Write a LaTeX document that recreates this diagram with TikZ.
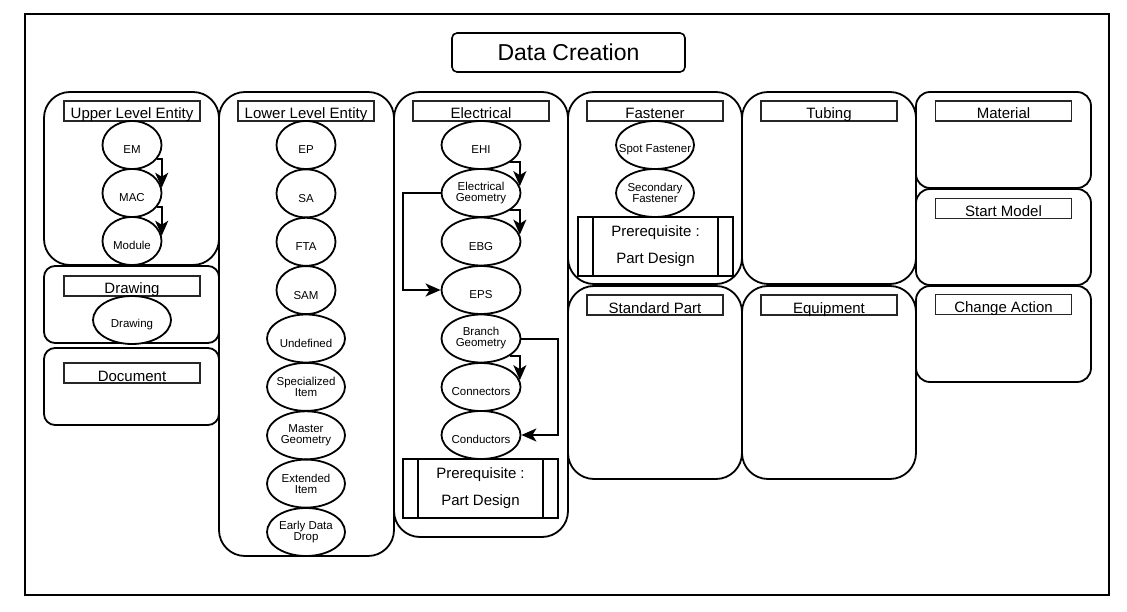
\documentclass[tikz,border=0pt]{standalone}
\usepackage{fontspec}
\setmainfont{Liberation Sans}
\usepackage{tikz}
\usetikzlibrary{shapes.geometric}
\usetikzlibrary{arrows.meta}

\tikzset{
    panel/.style={draw, line width=1.8pt, rounded corners=#1},
    tabhead/.style={draw=black!85, line width=1.6pt, fill=white, minimum width=136pt,
        minimum height=20pt, inner sep=0pt, text height=16pt, text depth=0pt,
        font=\fontsize{15}{18}\selectfont},
    entity/.style={ellipse, draw, line width=1.8pt, fill=white, minimum width=#1,
        minimum height=48pt, inner xsep=-14pt, inner ysep=-10pt, align=center,
        font=\fontsize{11.5}{11}\selectfont, execute at begin node={\rule{0pt}{18pt}}},
    entity/.default=78pt,
    prereq/.style={draw, line width=1.8pt, fill=white, minimum width=155pt,
        minimum height=59pt, inner sep=0pt, align=center,
        font=\fontsize{15}{27}\selectfont, execute at begin node={\rule{0pt}{19pt}}},
    flow/.style={line width=2pt, -{Stealth[length=15pt, width=13pt, inset=4pt]}},
}

\begin{document}
\begin{tikzpicture}[x=1pt, y=-1pt]
        \useasboundingbox (0,0) rectangle (1127,612);
        \draw[line width=1.6pt, fill=white] (25,14) rectangle (1109,595);
        \draw (568.5,52.5) node[draw, line width=1.6pt, rounded corners=5pt, minimum width=233pt,
            minimum height=39pt, font=\fontsize{23}{26}\selectfont] (title) {Data Creation};

        % Panels.
        \draw[panel=26pt] (44,92) rectangle (219,265);
        \draw[panel=11pt] (44,266) rectangle (219,343);
        \draw[panel=11pt] (44,348) rectangle (219,425);
        \draw[panel=26pt] (219,92) rectangle (394,556);
        \draw[panel=26pt] (394,92) rectangle (568,537);
        \draw[panel=26pt] (568,92) rectangle (742,284);
        \draw[panel=26pt] (568,286) rectangle (742,479);
        \draw[panel=26pt] (742,92) rectangle (916,284);
        \draw[panel=26pt] (742,286) rectangle (916,479);
        \draw[panel=14pt] (916,92) rectangle (1091,188);
        \draw[panel=14pt] (916,189) rectangle (1091,285);
        \draw[panel=14pt] (916,286) rectangle (1091,382);

        % Panel titles.
        \draw (132,111) node[tabhead] (ulehead) {Upper Level Entity};
        \draw (132,286) node[tabhead] (dwghead) {Drawing};
        \draw (132,373) node[tabhead] (dochead) {Document};
        \draw (306,111) node[tabhead] (llehead) {Lower Level Entity};
        \draw (481,111) node[tabhead] (elechead) {Electrical};
        \draw (655,111) node[tabhead] (fasthead) {Fastener};
        \draw (655,305) node[tabhead] (stdhead) {Standard Part};
        \draw (829,111) node[tabhead] (tubehead) {Tubing};
        \draw (829,305) node[tabhead] (equiphead) {Equipment};
        \draw (1003.5,111) node[tabhead] (mathead) {Material};
        \draw (1003.5,208.5) node[tabhead] (starthead) {Start Model};
        \draw (1003.5,304.5) node[tabhead] (chghead) {Change Action};

        % Upper level entity.
        \draw (132,145) node[entity=59pt] (em) {EM};
        \draw (132,193) node[entity=59pt] (mac) {MAC};
        \draw (132,241) node[entity=59pt] (module) {Module};
        \draw[flow] (em.-30) -| (mac.10);
        \draw[flow] (mac.-30) -| (module.10);

        % Drawing.
        \draw (132,320) node[entity] (dwg) {Drawing};

        % Lower level entity.
        \draw (306,145) node[entity=59pt] (ep) {EP};
        \draw (306,193.4) node[entity=59pt] (sa) {SA};
        \draw (306,241.8) node[entity=59pt] (fta) {FTA};
        \draw (306,290.1) node[entity=59pt] (sam) {SAM};
        \draw (306,338.5) node[entity] (undef) {Undefined};
        \draw (306,386.9) node[entity] (spitem) {Specialized\\Item};
        \draw (306,435.3) node[entity] (mgeo) {Master\\Geometry};
        \draw (306,483.6) node[entity] (extitem) {Extended\\Item};
        \draw (306,532) node[entity] (edd) {Early Data\\Drop};

        % Electrical.
        \draw (481,145) node[entity=79pt] (ehi) {EHI};
        \draw (481,193) node[entity=79pt] (egeo) {Electrical\\Geometry};
        \draw (481,241.5) node[entity=79pt] (ebg) {EBG};
        \draw (481,290) node[entity=79pt] (eps) {EPS};
        \draw (481,338.5) node[entity=79pt] (bgeo) {Branch\\Geometry};
        \draw (481,387) node[entity=79pt] (conn) {Connectors};
        \draw (481,435) node[entity=79pt] (cond) {Conductors};
        \draw (480.5,488.5) node[prereq] (elecpre) {Prerequisite :\\Part Design};
        \draw[line width=1.8pt] ([xshift=16pt]elecpre.north west) -- ([xshift=16pt]elecpre.south west)
            ([xshift=-16pt]elecpre.north east) -- ([xshift=-16pt]elecpre.south east);
        \draw[flow] (ehi.-30) -| (egeo.10);
        \draw[flow] (egeo.-30) -| (ebg.10);
        \draw[flow] (egeo.west) -- ++(-38,0) |- (eps.west);
        \draw[flow] (bgeo.-30) -| (conn.10);
        \draw[flow] (bgeo.east) -- ++(37,0) |- (cond.east);

        % Fastener.
        \draw (655,145) node[entity] (spot) {Spot Fastener};
        \draw (655,193) node[entity] (secfast) {Secondary\\Fastener};
        \draw (655.5,246.5) node[prereq] (fastpre) {Prerequisite :\\Part Design};
        \draw[line width=1.8pt] ([xshift=16pt]fastpre.north west) -- ([xshift=16pt]fastpre.south west)
            ([xshift=-16pt]fastpre.north east) -- ([xshift=-16pt]fastpre.south east);
    \end{tikzpicture}
\end{document}
